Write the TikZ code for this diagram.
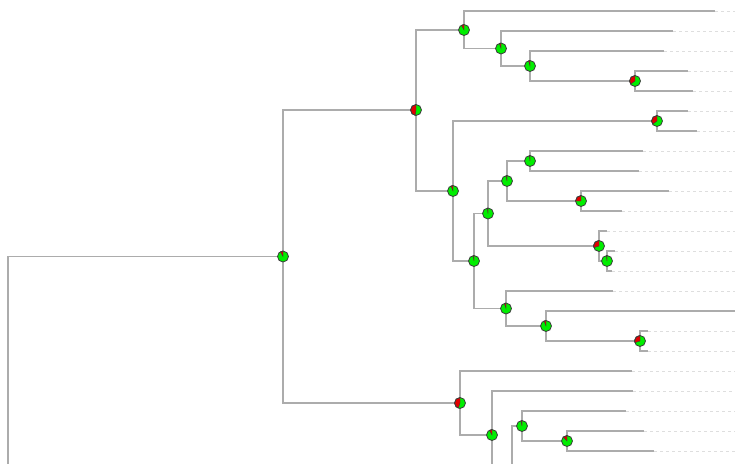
\documentclass[tikz,border=0pt]{standalone}
\usetikzlibrary{calc}

\definecolor{branchgray}{RGB}{172,172,172}
\definecolor{leadergray}{RGB}{222,222,222}
\definecolor{piegreen}{RGB}{0,238,0}
\definecolor{piered}{RGB}{226,0,0}
\definecolor{pierim}{RGB}{60,60,60}

\begin{document}
\begin{tikzpicture}[x=1pt,y=1pt,
    branch/.style={draw=branchgray,line width=1.5pt},
    leader/.style={draw=leadergray,line width=1pt,dash pattern=on 3pt off 3pt},
    wedge/.style={fill=piered,draw=pierim,line width=0.4pt},
    rim/.style={draw=pierim,line width=0.8pt}]

  % tree laid out in screen pixels (y downwards)
  \begin{scope}[yscale=-1]
    \useasboundingbox (0,0) rectangle (735,463);
    \clip (0,0) rectangle (735,463);

    % Tips: end of branch, one row every 20 px
    \foreach \i/\x in {1/715, 2/673, 3/664, 4/688, 5/693, 6/688, 7/697, 8/643,
                       9/639, 10/669, 11/622, 12/607, 13/615, 14/612, 15/613,
                       16/735, 17/648, 18/648, 19/632, 20/633, 21/626, 22/644,
                       23/654} {
        \coordinate (t\i) at (\x,{11+20*(\i-1)});
    }

    % Internal nodes
    \coordinate (A) at (464,30);
    \coordinate (B) at (501,48.5);
    \coordinate (C) at (530,66);
    \coordinate (D) at (635,81);
    \coordinate (E) at (416,110);
    \coordinate (F) at (453,191);
    \coordinate (G) at (657,121);
    \coordinate (H) at (474,261);
    \coordinate (I) at (488,213.5);
    \coordinate (J) at (507,181);
    \coordinate (K) at (530,161);
    \coordinate (L) at (581,201);
    \coordinate (M) at (599,246);
    \coordinate (N) at (607,261);
    \coordinate (O) at (506,308.5);
    \coordinate (P) at (546,326);
    \coordinate (Q) at (640,341);
    \coordinate (R) at (283,256.5);
    \coordinate (S) at (460,403);
    \coordinate (T) at (492,435);
    \coordinate (U) at (522,426);
    \coordinate (V) at (567,441);
    \coordinate (W) at (512,479);   % below the frame
    \coordinate (Z) at (8,490);     % below the frame
    \coordinate (edge) at (735,0);

    % Dashed leaders out to the right edge
    \foreach \i in {1,...,23} {
        \draw[leader] (t\i) -- (t\i -| edge);
    }

    % Branches (elbow from parent to child)
    \foreach \p/\c in {Z/R, R/E, R/S, E/A, E/F, A/t1, A/B, B/t2, B/C, C/t3, C/D,
                       D/t4, D/t5, F/G, F/H, G/t6, G/t7, H/I, H/O, I/J, I/M,
                       J/K, J/L, K/t8, K/t9, L/t10, L/t11, M/t12, M/N, N/t13,
                       N/t14, O/t15, O/P, P/t16, P/Q, Q/t17, Q/t18, S/t19, S/T,
                       T/t20, T/W, W/U, U/t21, U/V, V/t22, V/t23} {
        \draw[branch] (\p) |- (\c);
    }
  \end{scope}

  % Pie charts at the nodes (red share from the top, counter-clockwise)
  \foreach \n/\f in {A/0.08, B/0.05, C/0.04, D/0.35, E/0.48, F/0.06, G/0.35,
                     H/0.03, I/0.02, J/0.03, K/0.02, L/0.25, M/0.3, N/0.02,
                     O/0.05, P/0.06, Q/0.3, R/0.08, S/0.45, T/0.08, U/0.03,
                     V/0.12} {
      \fill[piegreen] (\n) circle[radius=5.5];
      \filldraw[wedge] (\n) -- ++(90:5.5)
          arc[start angle=90, delta angle=360*\f, radius=5.5] -- cycle;
      \draw[rim] (\n) circle[radius=5.5];
  }
\end{tikzpicture}
\end{document}
